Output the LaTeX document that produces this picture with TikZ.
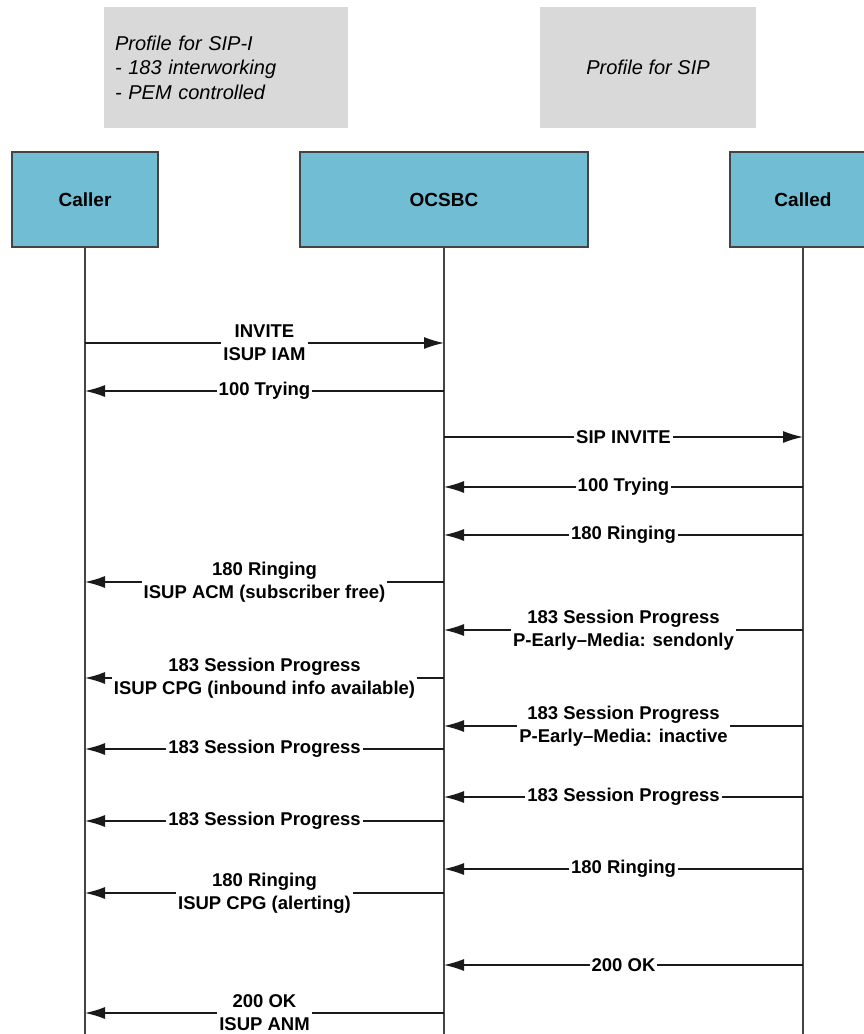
\documentclass[tikz,border=0pt]{standalone}
\usepackage{fontspec}
\setmainfont{Liberation Sans}
\usetikzlibrary{arrows.meta, positioning, calc}
\definecolor{lanefill}{HTML}{71BDD3}
\definecolor{notefill}{HTML}{D9D9D9}
\definecolor{edgegray}{HTML}{444444}
\definecolor{msggray}{HTML}{1A1A1A}

\begin{document}
\begin{tikzpicture}[x=1pt, y=-1pt,
            note/.style={fill=notefill, minimum width=244pt, minimum height=121pt, inner xsep=11pt, inner ysep=0pt, align=left, font=\fontsize{20}{24.5}\selectfont\itshape},
            lane/.style={rectangle, draw=edgegray, fill=lanefill, line width=1.6pt, minimum height=95pt, inner sep=0pt, font=\fontsize{19}{22}\selectfont\bfseries},
            life/.style={draw=edgegray, line width=1.4pt},
            msg/.style={msggray, line width=1.3pt, -{Latex[length=20pt, width=12pt]}},
            lbl/.style={fill=white, text=black, inner xsep=2pt, inner ysep=0pt, align=center, font=\fontsize{18.5}{23}\selectfont\bfseries}]
            \useasboundingbox (0,0) rectangle (864,1034);
            % profiles
            \node[note, text width=222pt] (sipi) at (226,67.5) {Profile for SIP-I\\- 183 interworking\\- PEM controlled};
            \node[note, minimum width=216pt, align=center] (sip) at (648,67.5) {Profile for SIP};
            % participants
            \node[lane, minimum width=146pt] (caller) at (85,199.5) {Caller};
            \node[lane, minimum width=288pt] (ocsbc) at (444,199.5) {OCSBC};
            \node[lane, minimum width=146pt] (called) at (803,199.5) {Called};
            \foreach \p in {caller, ocsbc, called}
                \draw[life] (\p.south) -- (\p.south |- 0,1040);
            % messages
            \foreach \ypos/\src/\dst/\txt in {
                343/caller/ocsbc/{INVITE\\ISUP IAM},
                391/ocsbc/caller/{100 Trying},
                437/ocsbc/called/{SIP INVITE},
                487/called/ocsbc/{100 Trying},
                535/called/ocsbc/{180 Ringing},
                582/ocsbc/caller/{180 Ringing\\ISUP ACM (subscriber free)},
                630/called/ocsbc/{183 Session Progress\\P-Early--Media: sendonly},
                678/ocsbc/caller/{183 Session Progress\\ISUP CPG (inbound info available)},
                726/called/ocsbc/{183 Session Progress\\P-Early--Media: inactive},
                749/ocsbc/caller/{183 Session Progress},
                797/called/ocsbc/{183 Session Progress},
                821/ocsbc/caller/{183 Session Progress},
                869/called/ocsbc/{180 Ringing},
                893/ocsbc/caller/{180 Ringing\\ISUP CPG (alerting)},
                965/called/ocsbc/{200 OK},
                1013/ocsbc/caller/{200 OK\\ISUP ANM}}
                \draw[msg] (\src.south |- 0,\ypos) -- node[lbl] {\txt} (\dst.south |- 0,\ypos);
        \end{tikzpicture}
\end{document}
